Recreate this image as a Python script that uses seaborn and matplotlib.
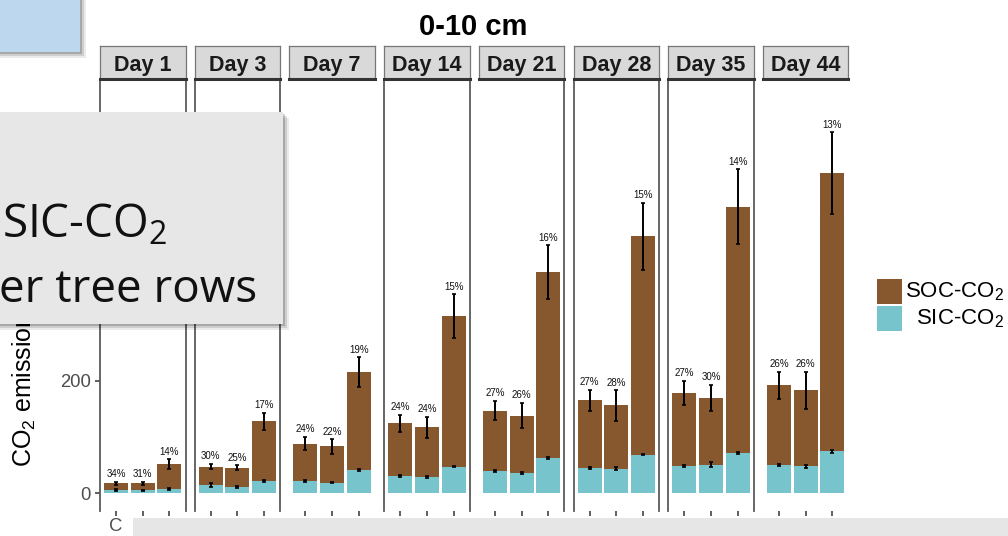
import numpy as np
import pandas as pd
import matplotlib
matplotlib.use("Agg")
import matplotlib.pyplot as plt
import seaborn as sns
from matplotlib.patches import Rectangle

# ---- data -------------------------------------------------------------
days = ["Day 1", "Day 3", "Day 7", "Day 14", "Day 21", "Day 28", "Day 35", "Day 44"]
treatments = ["C", "S", "M"]

# total CO2 (SOC + SIC) per day and treatment
total_co2 = [
    [17, 17, 51],
    [47, 45, 128],
    [88, 83, 215],
    [124, 117, 315],
    [147, 138, 393],
    [165, 156, 457],
    [178, 169, 510],
    [192, 183, 570],
]
total_sd = [
    [3.5, 3.5, 9],
    [5, 4.5, 15],
    [12, 13, 27],
    [15.5, 19, 39],
    [17, 23, 48],
    [19, 27, 60],
    [22, 23.5, 67],
    [24, 33, 73],
]
# share of SIC-CO2 in the total (%)
sic_pct = [
    [34, 31, 14],
    [30, 25, 17],
    [24, 22, 19],
    [24, 24, 15],
    [27, 26, 16],
    [27, 28, 15],
    [27, 30, 14],
    [26, 26, 13],
]
sic_sd = [
    [1.5, 1, 1.5],
    [3, 1.5, 1.5],
    [1.5, 1, 1.5],
    [2, 2, 1.5],
    [2, 1.5, 2],
    [2.5, 2.5, 1.5],
    [2.5, 5, 1.5],
    [2.5, 2.5, 2],
]
y_ticks = [0, 200]

rows = []
for d, day in enumerate(days):
    for t, trt in enumerate(treatments):
        tot = total_co2[d][t]
        rows.append(dict(day=day, treatment=trt, total=tot, total_sd=total_sd[d][t],
                         pct=sic_pct[d][t], sic=tot * sic_pct[d][t] / 100.0,
                         sic_sd=sic_sd[d][t]))
df = pd.DataFrame(rows)

# ---- style ------------------------------------------------------------
sns.set_theme(style="white")
plt.rcParams["font.family"] = ["Liberation Sans", "DejaVu Sans"]

SOC_COLOR = "#87582D"
SIC_COLOR = "#78C4CC"
W, H = 1008, 536
fig = plt.figure(figsize=(W / 100, H / 100), dpi=100)
fig.patch.set_facecolor("white")


def fx(px):
    return px / W


def fy(py):
    return 1 - py / H


panel_w = 85.5
panel_step = 94.7
panel_left0 = 100
strip_top, strip_bot = 46, 79
panel_bot = 511
show_left = [1, 1, 0, 1, 0, 1, 1, 0]
show_right = [1, 1, 0, 1, 1, 1, 1, 0]

for i, day in enumerate(days):
    x0 = panel_left0 + i * panel_step
    ax = fig.add_axes([fx(x0), fy(panel_bot), panel_w / W, (panel_bot - strip_bot) / H])
    sub = df[df["day"] == day]
    sns.barplot(data=sub, x="treatment", y="total", order=treatments, color=SOC_COLOR,
                saturation=1, width=0.9, errorbar=None, ax=ax, linewidth=0)
    sns.barplot(data=sub, x="treatment", y="sic", order=treatments, color=SIC_COLOR,
                saturation=1, width=0.9, errorbar=None, ax=ax, linewidth=0)
    xs = np.arange(len(treatments))
    ax.errorbar(xs, sub["total"], yerr=sub["total_sd"], fmt="none", ecolor="black",
                elinewidth=1.4, capsize=1.2, capthick=1.2, zorder=5)
    ax.errorbar(xs, sub["sic"], yerr=sub["sic_sd"], fmt="none", ecolor="black",
                elinewidth=1.4, capsize=1.2, capthick=1.2, zorder=5)
    for xi, (tot, sd, pct) in enumerate(zip(sub["total"], sub["total_sd"], sub["pct"])):
        ax.annotate(f"{pct}%", (xi, tot + sd), xytext=(0, 1.8), textcoords="offset points",
                    ha="center", va="bottom", fontsize=7, color="#111111")
    ax.set_xlim(-0.6, len(treatments) - 0.4)
    ax.set_ylim(-32, 737.5)
    ax.set_xlabel("")
    ax.set_ylabel("")
    ax.set_facecolor("white")
    ax.spines["top"].set_visible(False)
    ax.spines["bottom"].set_visible(False)
    ax.spines["left"].set_visible(bool(show_left[i]))
    ax.spines["right"].set_visible(bool(show_right[i]))
    for s in ("left", "right"):
        ax.spines[s].set_color("#5a5a5a")
        ax.spines[s].set_linewidth(1.3)
    ax.tick_params(axis="x", bottom=True, length=3.6, width=1.1, color="#333333",
                   labelsize=13.3, labelcolor="#4d4d4d", pad=1.5)
    if i == 0:
        ax.set_yticks(y_ticks)
        ax.set_yticklabels([str(v) for v in y_ticks])
        ax.tick_params(axis="y", left=True, length=3.6, width=1.1, color="#333333",
                       labelsize=13.3, labelcolor="#4d4d4d", pad=3)
    else:
        ax.set_yticks([])

    # facet strip
    sax = fig.add_axes([fx(x0), fy(strip_bot), panel_w / W, (strip_bot - strip_top) / H])
    sax.set_facecolor("#d9d9d9")
    sax.set_xticks([])
    sax.set_yticks([])
    for s in ("top", "left", "right"):
        sax.spines[s].set_color("#777777")
        sax.spines[s].set_linewidth(0.9)
    sax.spines["bottom"].set_color("#333333")
    sax.spines["bottom"].set_linewidth(2.2)
    fig.text(fx(x0 + panel_w / 2), fy(71.5), day, ha="center", va="baseline",
             fontsize=15.5, fontweight="bold", color="#1a1a1a")

# title and axis title
fig.text(fx(473), fy(35), "0-10 cm", ha="center", va="baseline", fontsize=21,
         fontweight="bold", color="black")
fig.text(fx(24), fy(467), r"CO$_\mathregular{2}$ emission",
         rotation=90, ha="center", va="bottom", fontsize=18, color="black")

# legend
for (ytop, col, lab, base) in [(279, SOC_COLOR, r"SOC-CO$_\mathregular{2}$", 297),
                               (306, SIC_COLOR, r"SIC-CO$_\mathregular{2}$", 324)]:
    fig.add_artist(Rectangle((fx(877), fy(ytop + 25)), 25 / W, 25 / H,
                             transform=fig.transFigure, facecolor=col, edgecolor="none"))
    fig.text(fx(1004), fy(base), lab, ha="right", va="baseline", fontsize=16, color="black")


# slide shapes layered over the chart
def shaded_box(x0, y0, x1, y1, color, z):
    for off, a in ((6, 0.08), (4, 0.12), (2, 0.18)):
        fig.add_artist(Rectangle((fx(x0 + off), fy(y1 + off)), (x1 - x0) / W, (y1 - y0) / H,
                                 transform=fig.transFigure, facecolor="black", alpha=a,
                                 edgecolor="none", zorder=z))
    fig.add_artist(Rectangle((fx(x0), fy(y1)), (x1 - x0) / W, (y1 - y0) / H,
                             transform=fig.transFigure, facecolor=color, edgecolor="none",
                             zorder=z + 0.5))


shaded_box(-10, -10, 80, 52, "#bdd7ee", 20)
shaded_box(-10, 112, 283, 324, "#e7e7e7", 22)
fig.add_artist(Rectangle((fx(133), 0), (W - 133) / W, 18 / H, transform=fig.transFigure,
                         facecolor="#e6e6e6", edgecolor="none", zorder=24))

box_font = ["Open Sans", "DejaVu Sans"]
fig.text(fx(2), fy(237), r"SIC-CO$_\mathregular{2}$", ha="left", va="baseline",
         fontsize=33, family=box_font, color="#111111", zorder=25)
fig.text(fx(-1), fy(302), "er tree rows", ha="left", va="baseline",
         fontsize=33, family=box_font, color="#111111", zorder=25)

fig.savefig("out.png", dpi=100, facecolor="white")
